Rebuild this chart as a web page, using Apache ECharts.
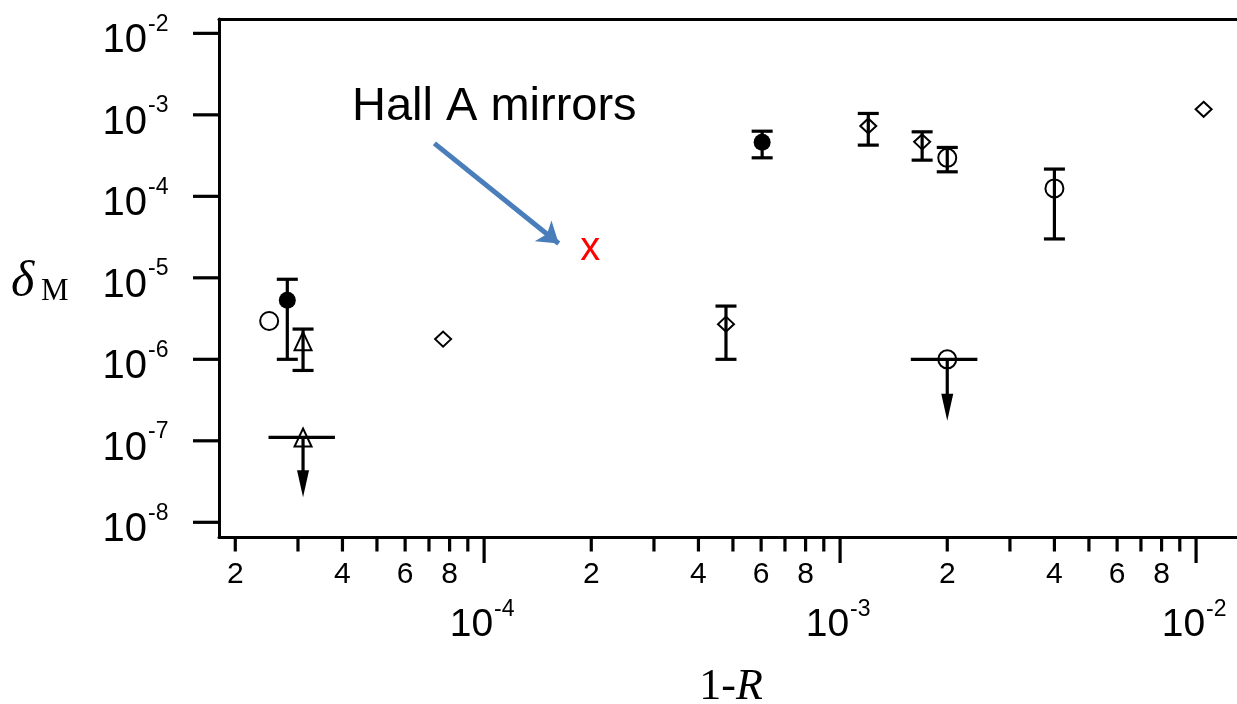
<!DOCTYPE html>
<html>
<head>
<meta charset="utf-8">
<script src="https://cdn.jsdelivr.net/npm/echarts@6/dist/echarts.min.js"></script>
<style>
  html, body { margin: 0; padding: 0; background: #fff; }
  #chart { width: 1237px; height: 704px; }
</style>
</head>
<body>
<div id="chart"></div>
<script>
// Logarithmic axis ranges: x = 1-R, y = delta_M
const xRange = [1.8e-5, 1.303e-2];
const yRange = [6.6e-9, 1.5e-2];

// Tick positions and tick labels
const xMajorTicks = [1e-4, 1e-3, 1e-2];
const xMajorExponents = ['-4', '-3', '-2'];
const xMinorTicks = [
  2e-5, 3e-5, 4e-5, 5e-5, 6e-5, 7e-5, 8e-5, 9e-5,
  2e-4, 3e-4, 4e-4, 5e-4, 6e-4, 7e-4, 8e-4, 9e-4,
  2e-3, 3e-3, 4e-3, 5e-3, 6e-3, 7e-3, 8e-3, 9e-3
];
const xMinorLabels = [
  '2', '', '4', '', '6', '', '8', '',
  '2', '', '4', '', '6', '', '8', '',
  '2', '', '4', '', '6', '', '8', ''
];
const yMajorTicks = [1e-8, 1e-7, 1e-6, 1e-5, 1e-4, 1e-3, 1e-2];
const yMajorExponents = ['-8', '-7', '-6', '-5', '-4', '-3', '-2'];

// Measurements, grouped by marker style: [1-R, delta_M]
const openCircles = [[2.49e-5, 2.95e-6], [2.0e-3, 2.97e-4], [4.0e-3, 1.25e-4], [2.0e-3, 1.0e-6]];
const filledCircles = [[2.80e-5, 5.3e-6], [6.04e-4, 4.6e-4]];
const triangles = [[3.1e-5, 1.67e-6], [3.1e-5, 1.1e-7]];
const diamonds = [[7.67e-5, 1.77e-6], [4.78e-4, 2.7e-6], [1.2e-3, 7.3e-4], [1.7e-3, 4.66e-4], [1.05e-2, 1.17e-3]];
const hallA = [[2.0e-4, 2.0e-5]];

// Error bars: [1-R, low, high]
const errorBars = [
  [2.80e-5, 1.0e-6, 9.6e-6],
  [3.1e-5, 7.3e-7, 2.35e-6],
  [4.78e-4, 1.0e-6, 4.5e-6],
  [6.04e-4, 2.97e-4, 6.3e-4],
  [1.2e-3, 4.25e-4, 1.04e-3],
  [1.7e-3, 2.78e-4, 6.19e-4],
  [2.0e-3, 2.0e-4, 3.98e-4],
  [4.0e-3, 3.0e-5, 2.16e-4]
];

// Upper limits: [1-R, limit, range start, range end, arrow tip]
const upperLimits = [
  [3.1e-5, 1.1e-7, 2.48e-5, 3.81e-5, 2.03e-8],
  [2.0e-3, 1.0e-6, 1.58e-3, 2.43e-3, 1.76e-7]
];

// Pointer from the caption to the Hall A point: [start, end]
const hallArrow = [[7.25e-5, 4.46e-4], [1.62e-4, 2.64e-5]];

const SANS = 'Liberation Sans';
const SERIF = 'Liberation Serif';
const BLACK = '#000';
const lineStyle = { stroke: BLACK, lineWidth: 3.2 };

function renderXMinor(params, api) {
  const x = api.coord([api.value(0), yRange[0]])[0];
  const y0 = params.coordSys.y + params.coordSys.height;
  const label = xMinorLabels[params.dataIndex];
  const children = [{ type: 'line', shape: { x1: x, y1: y0, x2: x, y2: y0 + 14.5 }, style: lineStyle }];
  if (label) {
    children.push({ type: 'text', x: x, y: y0 + 38,
      style: { text: label, fontSize: 30, fontFamily: SANS, fill: BLACK, align: 'center', verticalAlign: 'middle' } });
  }
  return { type: 'group', children };
}

function renderXMajor(params, api) {
  const x = api.coord([api.value(0), yRange[0]])[0];
  const y0 = params.coordSys.y + params.coordSys.height;
  const exp = xMajorExponents[params.dataIndex];
  return { type: 'group', children: [
    { type: 'line', shape: { x1: x, y1: y0, x2: x, y2: y0 + 26 }, style: lineStyle },
    { type: 'text', x: x + 9, y: y0 + 88,
      style: { text: '10', fontSize: 39, fontFamily: SANS, fill: BLACK, align: 'right', verticalAlign: 'middle' } },
    { type: 'text', x: x + 10, y: y0 + 73,
      style: { text: exp, fontSize: 23, fontFamily: SANS, fill: BLACK, align: 'left', verticalAlign: 'middle' } }
  ] };
}

function renderYMajor(params, api) {
  const y = api.coord([xRange[0], api.value(1)])[1];
  const x0 = params.coordSys.x;
  const exp = yMajorExponents[params.dataIndex];
  return { type: 'group', children: [
    { type: 'line', shape: { x1: x0 - 26, y1: y, x2: x0, y2: y }, style: lineStyle },
    { type: 'text', x: x0 - 72, y: y + 8,
      style: { text: '10', fontSize: 40, fontFamily: SANS, fill: BLACK, align: 'right', verticalAlign: 'middle' } },
    { type: 'text', x: x0 - 71, y: y - 9,
      style: { text: exp, fontSize: 23, fontFamily: SANS, fill: BLACK, align: 'left', verticalAlign: 'middle' } }
  ] };
}

function renderErrorBar(params, api) {
  const x = api.value(0);
  const lo = api.coord([x, api.value(1)]);
  const hi = api.coord([x, api.value(2)]);
  const h = 10.5;
  return { type: 'group', children: [
    { type: 'line', shape: { x1: lo[0], y1: lo[1], x2: hi[0], y2: hi[1] }, style: lineStyle },
    { type: 'line', shape: { x1: lo[0] - h, y1: lo[1], x2: lo[0] + h, y2: lo[1] }, style: lineStyle },
    { type: 'line', shape: { x1: hi[0] - h, y1: hi[1], x2: hi[0] + h, y2: hi[1] }, style: lineStyle }
  ] };
}

function renderUpperLimit(params, api) {
  const x = api.value(0), y = api.value(1);
  const p = api.coord([x, y]);
  const left = api.coord([api.value(2), y]);
  const right = api.coord([api.value(3), y]);
  const tip = api.coord([x, api.value(4)]);
  const headLen = 27, headHalf = 6;
  return { type: 'group', children: [
    { type: 'line', shape: { x1: left[0], y1: p[1], x2: right[0], y2: p[1] }, style: lineStyle },
    { type: 'line', shape: { x1: p[0], y1: p[1], x2: tip[0], y2: tip[1] - headLen + 2 }, style: lineStyle },
    { type: 'polygon', shape: { points: [[tip[0], tip[1]], [tip[0] - headHalf, tip[1] - headLen], [tip[0] + headHalf, tip[1] - headLen]] },
      style: { fill: BLACK } }
  ] };
}

const hollow = { color: 'rgba(0,0,0,0)', borderColor: BLACK, borderWidth: 2, opacity: 1 };
const frameLine = { show: true, lineStyle: { color: BLACK, width: 3 } };
const hiddenParts = { axisTick: { show: false }, axisLabel: { show: false }, splitLine: { show: false } };

const chart = echarts.init(document.getElementById('chart'), null, { renderer: 'canvas' });
chart.setOption({
  animation: false,
  backgroundColor: '#fff',
  grid: { left: 219, top: 19, width: 1018, height: 518, show: false },
  xAxis: [
    Object.assign({ type: 'log', logBase: 10, min: xRange[0], max: xRange[1], position: 'bottom', axisLine: frameLine }, hiddenParts),
    Object.assign({ type: 'log', logBase: 10, min: xRange[0], max: xRange[1], position: 'top', axisLine: frameLine }, hiddenParts)
  ],
  yAxis: Object.assign({ type: 'log', logBase: 10, min: yRange[0], max: yRange[1], position: 'left', axisLine: frameLine }, hiddenParts),
  graphic: [
    { type: 'text', x: 352, y: 107,
      style: { text: 'Hall A mirrors', fontSize: 47, fontFamily: SANS, fill: BLACK, align: 'left', verticalAlign: 'middle' } },
    { type: 'text', x: 11, y: 283,
      style: { text: 'δ', fontSize: 50, fontStyle: 'italic', fontFamily: SERIF, fill: BLACK, align: 'left', verticalAlign: 'middle' } },
    { type: 'text', x: 41, y: 292,
      style: { text: 'M', fontSize: 31, fontFamily: SERIF, fill: BLACK, align: 'left', verticalAlign: 'middle' } },
    { type: 'text', x: 731, y: 687,
      style: { text: '{a|1-}{b|R}', align: 'center', verticalAlign: 'middle',
        rich: { a: { fontSize: 44, fontFamily: SERIF, color: BLACK }, b: { fontSize: 44, fontFamily: SERIF, fontStyle: 'italic', color: BLACK } } } }
  ],
  series: [
    { type: 'custom', name: 'xMinorTicks', clip: false, silent: true, z: 1,
      data: xMinorTicks.map(v => [v, yRange[0]]), encode: { x: 0, y: 1 }, renderItem: renderXMinor },
    { type: 'custom', name: 'xMajorTicks', clip: false, silent: true, z: 1,
      data: xMajorTicks.map(v => [v, yRange[0]]), encode: { x: 0, y: 1 }, renderItem: renderXMajor },
    { type: 'custom', name: 'yMajorTicks', clip: false, silent: true, z: 1,
      data: yMajorTicks.map(v => [xRange[0], v]), encode: { x: 0, y: 1 }, renderItem: renderYMajor },
    { type: 'custom', name: 'errorBars', clip: false, silent: true, z: 2,
      data: errorBars, encode: { x: 0, y: [1, 2] }, renderItem: renderErrorBar },
    { type: 'custom', name: 'upperLimits', clip: false, silent: true, z: 2,
      data: upperLimits, encode: { x: [0, 2, 3], y: [1, 4] }, renderItem: renderUpperLimit },
    { type: 'scatter', name: 'open circles', z: 3, symbol: 'circle', symbolSize: 18,
      itemStyle: hollow, data: openCircles },
    { type: 'scatter', name: 'filled circles', z: 3, symbol: 'circle', symbolSize: 17,
      itemStyle: { color: BLACK, opacity: 1 }, data: filledCircles },
    { type: 'scatter', name: 'triangles', z: 3, symbol: 'triangle', symbolSize: [17, 18],
      itemStyle: hollow, data: triangles },
    { type: 'scatter', name: 'diamonds', z: 3, symbol: 'diamond', symbolSize: [16, 15],
      itemStyle: hollow, data: diamonds },
    { type: 'scatter', name: 'Hall A', z: 4, symbolSize: 1,
      itemStyle: { color: 'rgba(0,0,0,0)', opacity: 1 }, data: hallA,
      label: { show: true, position: 'inside', formatter: 'x', color: '#ff0000', fontSize: 40, fontFamily: SANS, offset: [-1, -4] } },
    { type: 'lines', name: 'Hall A pointer', coordinateSystem: 'cartesian2d', z: 4, silent: true,
      symbol: ['none', 'arrow'], symbolSize: 20,
      lineStyle: { color: '#4a7ebb', width: 5, opacity: 1, curveness: 0 },
      data: [{ coords: hallArrow }] }
  ]
});
</script>
</body>
</html>
